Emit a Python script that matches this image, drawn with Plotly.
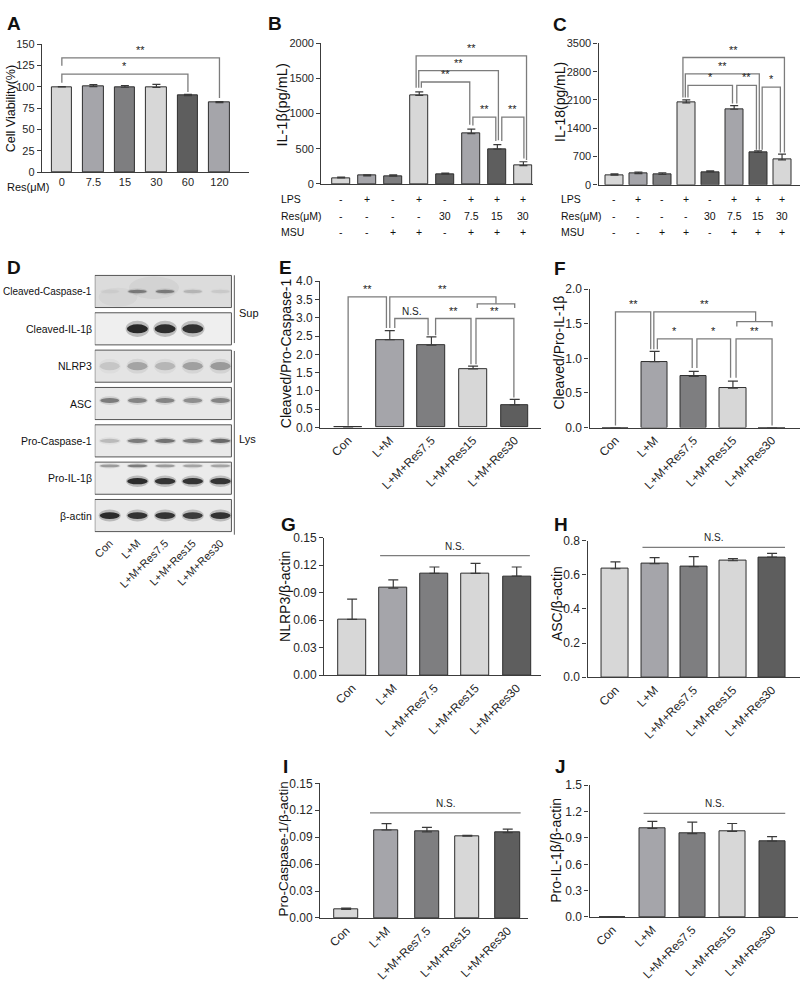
import plotly.graph_objects as go

W, H = 800, 982
FONT = "Liberation Sans, Arial, Helvetica, sans-serif"
INK = "#262626"
AXC = "#3c3c3c"
BRC = "#7c7c7c"
LIGHT, MED, DARK2, DARK = "#d7d7d7", "#a5a5aa", "#7e7e80", "#5e5e5e"

# ---------------- data ----------------
# A: cell viability
a_ticks = ["0", "7.5", "15", "30", "60", "120"]
a_vals = [100.0, 100.3, 99.6, 99.3, 89.7, 81.6]
a_err = [0.4, 2.3, 2.1, 3.6, 1.6, 1.1]
a_colors = [LIGHT, MED, DARK2, LIGHT, DARK, MED]
a_brackets = [(0, 4, 115, 105, 94, "*"), (0, 5, 134, 125, 87, "**")]

# B / C: ELISA
lps_row = ["-", "+", "-", "+", "-", "+", "+", "+"]
res_row = ["-", "-", "-", "-", "30", "7.5", "15", "30"]
msu_row = ["-", "-", "+", "+", "-", "+", "+", "+"]
bc_colors = [LIGHT, MED, DARK2, LIGHT, DARK, MED, DARK, LIGHT]
b_vals = [85, 115, 110, 1260, 140, 715, 495, 260]
b_err = [10, 15, 18, 50, 12, 65, 65, 55]
b_brackets = [
    (2.88, 7.12, 1823, 1370, 340, "**"),
    (2.98, 6.04, 1613, 1370, 620, "**"),
    (3.08, 4.94, 1450, 1370, 840, "**"),
    (5.06, 5.94, 950, 830, 610, "**"),
    (6.17, 7.02, 950, 610, 360, "**"),
]
c_vals = [240, 280, 260, 2030, 320, 1870, 800, 620]
c_err = [30, 35, 40, 70, 25, 90, 40, 140]
c_brackets = [
    (2.86, 7.10, 3150, 2160, 800, "**"),
    (2.96, 6.05, 2745, 2160, 870, "**"),
    (3.07, 4.93, 2460, 2160, 2010, "*"),
    (5.11, 5.93, 2460, 2010, 870, "**"),
    (6.17, 6.93, 2420, 870, 800, "*"),
]

# E-J: western blot quantification
groups = ["Con", "L+M", "L+M+Res7.5", "L+M+Res15", "L+M+Res30"]
grp_colors = [LIGHT, MED, DARK2, LIGHT, DARK]
e_vals = [0, 2.4, 2.25, 1.6, 0.62]
e_err = [0, 0.25, 0.23, 0.08, 0.15]
e_brackets = [
    (0.0, 0.92, 3.57, 0.05, 2.72, "**"),
    (1.0, 3.55, 3.57, 2.72, 3.38, "**"),
    (3.1, 4.0, 3.38, 3.27, 3.27, ""),
    (1.12, 1.92, 2.98, 2.72, 2.52, "N.S."),
    (2.1, 2.95, 2.98, 2.52, 1.73, "**"),
    (3.07, 3.98, 2.98, 1.73, 0.82, "**"),
]
f_vals = [0, 0.95, 0.74, 0.57, 0]
f_err = [0, 0.15, 0.07, 0.1, 0]
f_brackets = [
    (0.0, 0.9, 1.67, 0.03, 1.13, "**"),
    (0.98, 3.58, 1.67, 1.13, 1.53, "**"),
    (3.1, 4.0, 1.53, 1.46, 1.46, ""),
    (1.07, 1.96, 1.28, 1.13, 0.86, "*"),
    (2.08, 2.94, 1.28, 0.86, 0.72, "*"),
    (3.08, 4.0, 1.28, 0.72, 0.03, "**"),
]
g_vals = [0.061, 0.095, 0.111, 0.111, 0.108]
g_err = [0.022, 0.009, 0.007, 0.011, 0.010]
g_ns = (0.68, 4.32, 0.1305)
h_vals = [0.635, 0.665, 0.648, 0.682, 0.703]
h_err = [0.040, 0.035, 0.058, 0.013, 0.022]
h_ns = (0.69, 4.33, 0.76)
i_vals = [0.0095, 0.098, 0.096, 0.091, 0.095]
i_err = [0.0015, 0.007, 0.005, 0.001, 0.004]
i_ns = (0.59, 4.32, 0.117)
j_vals = [0, 1.01, 0.95, 0.975, 0.865]
j_err = [0, 0.08, 0.13, 0.09, 0.05]
j_ns = (0.78, 4.33, 1.18)

# D: blot band intensities (0-1) per lane
blot_rows = ["Cleaved-Caspase-1", "Cleaved-IL-1β", "NLRP3", "ASC",
             "Pro-Caspase-1", "Pro-IL-1β", "β-actin"]
band_cleaved_casp1 = [0.04, 0.45, 0.45, 0.18, 0.08]
band_cleaved_il1b = [0.0, 0.98, 0.95, 0.92, 0.0]
band_nlrp3 = [0.12, 0.28, 0.2, 0.3, 0.33]
band_asc = [0.5, 0.45, 0.45, 0.4, 0.45]
band_pro_casp1 = [0.2, 0.5, 0.55, 0.5, 0.6]
band_pro_il1b = [0.0, 0.95, 0.9, 0.9, 0.9]
band_pro_il1b_upper = [0.35, 0.5, 0.35, 0.3, 0.3]
band_actin = [0.95, 0.9, 0.9, 0.85, 0.92]

# ---------------- figure ----------------
fig = go.Figure()
layout = {}
annotations = []
shapes = []


def sfx(n):
    return "" if n == 1 else str(n)


def add_panel(n, xpx, ypx, c0, sp, yrange, dtick, fmt, ticktext=None,
              tickangle=0, tickfs=11, yfs=11):
    s = sfx(n)
    layout["xaxis" + s] = dict(
        domain=[xpx[0] / W, xpx[1] / W],
        range=[(xpx[0] - c0) / sp, (xpx[1] - c0) / sp],
        anchor="y" + s, showline=True, linecolor=AXC, linewidth=1.2,
        ticks="", showgrid=False, zeroline=False, tickmode="array",
        tickvals=list(range(len(ticktext))) if ticktext else [],
        ticktext=ticktext or [], tickangle=tickangle,
        tickfont=dict(size=tickfs, color=INK), showticklabels=bool(ticktext))
    layout["yaxis" + s] = dict(
        domain=[1 - ypx[1] / H, 1 - ypx[0] / H], range=yrange,
        anchor="x" + s, showline=True, linecolor=AXC, linewidth=1.2,
        ticks="outside", ticklen=4, tickwidth=1.2, tickcolor=AXC,
        tick0=0, dtick=dtick, tickformat=fmt, showgrid=False,
        zeroline=False, tickfont=dict(size=yfs, color=INK))


def add_bars(n, vals, errs, colors, width, capw):
    s = sfx(n)
    fig.add_trace(go.Bar(
        x=list(range(len(vals))), y=vals, width=width,
        marker=dict(color=colors, line=dict(color="#2e2e2e", width=1)),
        error_y=dict(type="data", array=errs, arrayminus=[0] * len(errs),
                     symmetric=False, color="#3a3a3a", thickness=1.2,
                     width=capw),
        xaxis="x" + s, yaxis="y" + s, showlegend=False, hoverinfo="skip"))


def add_brackets(n, specs, fs=11):
    s = sfx(n)
    for xa, xb, y, ya, yb, txt in specs:
        fig.add_trace(go.Scatter(
            x=[xa, xa, xb, xb], y=[ya, y, y, yb], mode="lines",
            line=dict(color=BRC, width=1.3), xaxis="x" + s, yaxis="y" + s,
            showlegend=False, hoverinfo="skip"))
        if txt:
            annotations.append(dict(
                x=(xa + xb) / 2, y=y, xref="x" + s, yref="y" + s, text=txt,
                showarrow=False, yanchor="bottom",
                font=dict(size=fs if txt != "N.S." else 10, color="#222")))


def add_ns(n, spec):
    s = sfx(n)
    xa, xb, y = spec
    fig.add_trace(go.Scatter(
        x=[xa, xb], y=[y, y], mode="lines", line=dict(color=BRC, width=1.3),
        xaxis="x" + s, yaxis="y" + s, showlegend=False, hoverinfo="skip"))
    annotations.append(dict(
        x=(xa + xb) / 2, y=y, xref="x" + s, yref="y" + s, text="N.S.",
        showarrow=False, yanchor="bottom", yshift=2,
        font=dict(size=10, color=INK)))


def ptext(txt, x, y, size=12, xanchor="center", yanchor="middle",
          angle=0, bold=False):
    annotations.append(dict(
        x=x / W, y=1 - y / H, xref="paper", yref="paper",
        text=("<b>%s</b>" % txt) if bold else txt, showarrow=False,
        xanchor=xanchor, yanchor=yanchor, textangle=angle,
        font=dict(size=size, color="#111")))


# ---- A ----
add_panel(1, (40, 248), (38, 168), 60, 31.6, [0, 150], 25, "d",
          ticktext=a_ticks, tickfs=11)
add_bars(1, a_vals, a_err, a_colors, 0.66, 4)
add_brackets(1, a_brackets)
ptext("Res(μM)", 3, 183, size=11, xanchor="left")
ptext("Cell Viability(%)", 9, 103, size=12.5, angle=-90)

# ---- B ----
add_panel(2, (320, 532), (37, 180), 340, 26.1, [0, 2000], 500, "d")
add_bars(2, b_vals, b_err, bc_colors, 0.69, 4)
add_brackets(2, b_brackets)
ptext("IL-1β(pg/mL)", 281, 100, size=14.5, angle=-90)

# ---- C ----
add_panel(3, (598, 800), (37, 181), 614, 24.0, [0, 3500], 700, "d")
add_bars(3, c_vals, c_err, bc_colors, 0.75, 4)
add_brackets(3, c_brackets)
ptext("IL-18(pg/mL)", 560, 97, size=14, angle=-90)

for n, xlab in ((2, 278), (3, 558)):
    for row, ypix, name in ((lps_row, 195, "LPS"), (res_row, 213, "Res(μM)"),
                            (msu_row, 229, "MSU")):
        ptext(name, xlab, ypix, size=10.5, xanchor="left")
        for i, t in enumerate(row):
            annotations.append(dict(
                x=i, y=1 - ypix / H, xref="x" + sfx(n), yref="paper",
                text=t, showarrow=False, yanchor="middle",
                font=dict(size=10.5, color="#111")))

# ---- E ----
add_panel(4, (319, 540), (279, 428), 347, 41.75, [0, 4], 0.5, ".1f",
          ticktext=groups, tickangle=-45, tickfs=12, yfs=12)
add_bars(4, e_vals, e_err, grp_colors, 0.67, 5)
add_brackets(4, e_brackets)
ptext("Cleaved/Pro-Caspase-1", 285, 352, size=14, angle=-90)

# ---- F ----
add_panel(5, (589, 800), (287, 428), 615, 39.25, [0, 2], 0.5, ".1f",
          ticktext=groups, tickangle=-45, tickfs=12, yfs=12)
add_bars(5, f_vals, f_err, grp_colors, 0.67, 5)
add_brackets(5, f_brackets)
ptext("Cleaved/Pro-IL-1β", 558, 352, size=14, angle=-90)

# ---- G ----
add_panel(6, (323, 540), (540, 680), 351, 41.25, [0, 0.15], 0.03, ".2f",
          ticktext=groups, tickangle=-45, tickfs=12, yfs=12)
add_bars(6, g_vals, g_err, grp_colors, 0.68, 5)
add_ns(6, g_ns)
ptext("NLRP3/β-actin", 283, 600, size=14, angle=-90)

# ---- H ----
add_panel(7, (587, 800), (543, 682), 615, 39.25, [0, 0.8], 0.2, ".1f",
          ticktext=groups, tickangle=-45, tickfs=12, yfs=12)
add_bars(7, h_vals, h_err, grp_colors, 0.69, 5)
add_ns(7, h_ns)
ptext("ASC/β-actin", 557, 607, size=14, angle=-90)

# ---- I ----
add_panel(8, (319, 527), (790, 927), 345, 40.5, [0, 0.15], 0.03, ".2f",
          ticktext=groups, tickangle=-45, tickfs=12, yfs=12)
add_bars(8, i_vals, i_err, grp_colors, 0.6, 5)
add_ns(8, i_ns)
ptext("Pro-Caspase-1/β-actin", 282, 857, size=13.5, angle=-90)

# ---- J ----
add_panel(9, (589, 798), (792, 926), 612, 40.0, [0, 1.5], 0.3, ".1f",
          ticktext=groups, tickangle=-45, tickfs=12, yfs=12)
add_bars(9, j_vals, j_err, grp_colors, 0.65, 5)
add_ns(9, j_ns)
ptext("Pro-IL-1β/β-actin", 556, 858, size=14, angle=-90)

# ---- D: blot ----
lane0, lane_sp = 108, 27.75
row0, row_sp = 289.5, 38.0
layout["xaxis10"] = dict(
    domain=[93 / W, 245 / W], range=[(93 - lane0) / lane_sp, (245 - lane0) / lane_sp],
    anchor="y10", showline=False, showgrid=False, zeroline=False, ticks="",
    tickmode="array", tickvals=list(range(5)), ticktext=groups, tickangle=-45,
    tickfont=dict(size=11, color=INK))
layout["yaxis10"] = dict(
    domain=[1 - 536 / H, 1 - 268 / H],
    range=[(536 - row0) / row_sp, (268 - row0) / row_sp],
    anchor="x10", visible=False)
fig.add_trace(go.Scatter(x=list(range(5)), y=[0] * 5, mode="markers",
                         marker=dict(opacity=0), xaxis="x10", yaxis="y10",
                         showlegend=False, hoverinfo="skip"))

box_fill = ["#dcdcdc", "#efefef", "#e4e4e4", "#e8e8e8", "#e9e9e9", "#ebebeb", "#e9e9e9"]
bx0, bx1 = (93 - lane0) / lane_sp, (230 - lane0) / lane_sp
for k in range(len(blot_rows)):
    shapes.append(dict(type="rect", xref="x10", yref="y10", x0=bx0, x1=bx1,
                       y0=k - 0.43, y1=k + 0.43, fillcolor=box_fill[k],
                       line=dict(color="#555", width=1), layer="above"))
    ptext(blot_rows[k], 92, row0 + row_sp * k,
          size=10 if len(blot_rows[k]) > 14 else 10.5, xanchor="right")

# faint smudges in the supernatant caspase-1 membrane
for cx, cy, rx, ry, a in ((1.6, -0.1, 0.9, 0.3, 0.06), (0.3, 0.15, 0.7, 0.25, 0.04)):
    shapes.append(dict(type="circle", xref="x10", yref="y10",
                       x0=cx - rx, x1=cx + rx, y0=cy - ry, y1=cy + ry,
                       fillcolor="rgba(60,60,60,%.2f)" % a, line=dict(width=0),
                       layer="above"))

band_sets = [
    (0, band_cleaved_casp1, 0.0, 0.045, 0.33),
    (1, band_cleaved_il1b, 0.0, 0.12, 0.38),
    (2, band_nlrp3, 0.0, 0.11, 0.36),
    (3, band_asc, -0.08, 0.065, 0.34),
    (4, band_pro_casp1, 0.0, 0.055, 0.36),
    (5, band_pro_il1b, 0.08, 0.085, 0.37),
    (5, band_pro_il1b_upper, -0.33, 0.04, 0.35),
    (6, band_actin, 0.0, 0.09, 0.36),
]
for k, vals, dy, hh, hw in band_sets:
    for i, v in enumerate(vals):
        if v <= 0:
            continue
        shapes.append(dict(type="circle", xref="x10", yref="y10",
                           x0=i - hw * 1.12, x1=i + hw * 1.12,
                           y0=k + dy - hh * 1.8, y1=k + dy + hh * 1.8,
                           fillcolor="rgba(30,30,30,%.3f)" % (v * 0.25),
                           line=dict(width=0), layer="above"))
        shapes.append(dict(type="circle", xref="x10", yref="y10",
                           x0=i - hw, x1=i + hw, y0=k + dy - hh, y1=k + dy + hh,
                           fillcolor="rgba(20,20,20,%.3f)" % (v * 0.9),
                           line=dict(width=0), layer="above"))

shapes.append(dict(type="line", xref="paper", yref="paper", x0=233 / W, x1=233 / W,
                   y0=1 - 273 / H, y1=1 - 342 / H, line=dict(color="#777", width=1.2)))
shapes.append(dict(type="line", xref="paper", yref="paper", x0=233 / W, x1=233 / W,
                   y0=1 - 350 / H, y1=1 - 537 / H, line=dict(color="#777", width=1.2)))
ptext("Sup", 236, 311, size=11, xanchor="left")
ptext("Lys", 236, 440, size=11, xanchor="left")

# ---- panel letters ----
for letter, x, y in (("A", 3, 4), ("B", 265, 4), ("C", 550, 5), ("D", 3, 252),
                     ("E", 276, 252), ("F", 551, 253), ("G", 278, 514),
                     ("H", 551, 514), ("I", 280, 760), ("J", 552, 760)):
    ptext(letter, x, y, size=19, xanchor="left", yanchor="top", bold=True)

layout.update(dict(
    width=W, height=H, margin=dict(l=0, r=0, t=0, b=0),
    paper_bgcolor="white", plot_bgcolor="white",
    font=dict(family=FONT, color=INK), showlegend=False,
    bargap=0, annotations=annotations, shapes=shapes))
fig.update_layout(**layout)
fig.write_html("out.html", config={"displayModeBar": False},
               post_script="document.body.style.margin='0';document.body.style.padding='0';")
